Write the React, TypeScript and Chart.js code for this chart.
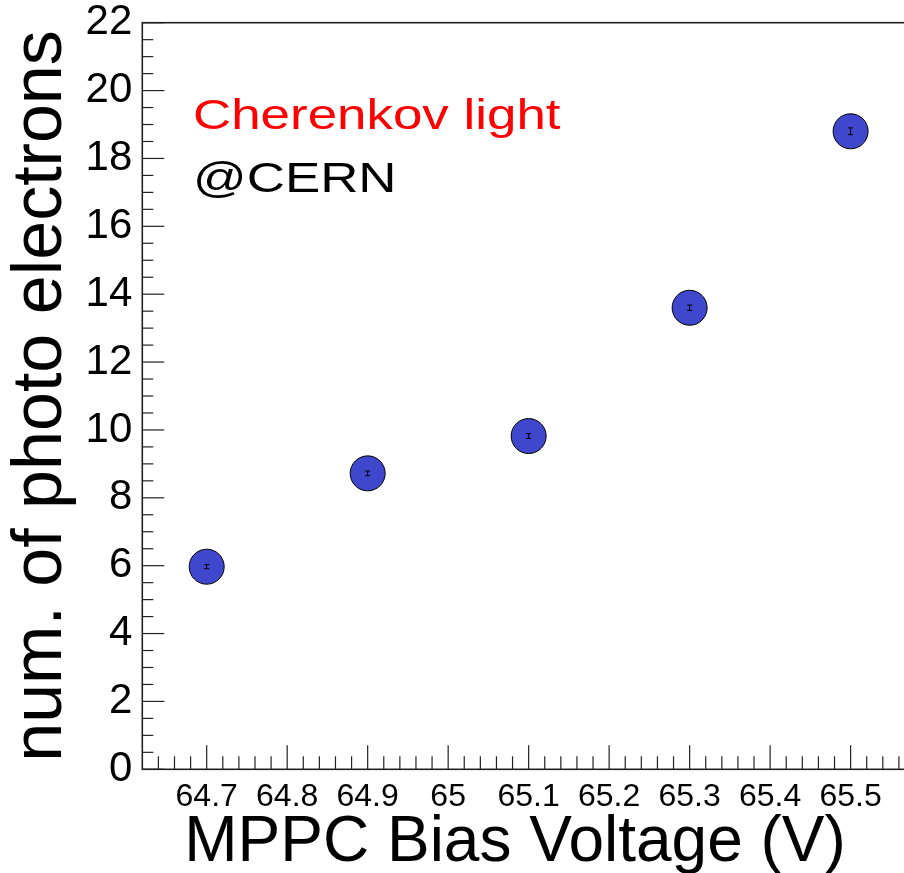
import React, { useEffect, useRef } from 'react';
import { Chart, registerables } from 'chart.js';

Chart.register(...registerables);

// ---- data ----
const biasVoltage = [64.7, 64.9, 65.1, 65.3, 65.5];
const photoElectrons = [5.97, 8.72, 9.82, 13.6, 18.8];
const peErrors = [0.06, 0.07, 0.07, 0.08, 0.1];

const xTickValues = [64.7, 64.8, 64.9, 65.0, 65.1, 65.2, 65.3, 65.4, 65.5];
const xTickLabels = ['64.7', '64.8', '64.9', '65', '65.1', '65.2', '65.3', '65.4', '65.5'];
const yTickValues = [0, 2, 4, 6, 8, 10, 12, 14, 16, 18, 20, 22];
const yTickLabels = ['0', '2', '4', '6', '8', '10', '12', '14', '16', '18', '20', '22'];

const X_MIN = 64.62;
const X_MAX = 65.58;
const Y_MIN = 0;
const Y_MAX = 22;

const FONT = '"Liberation Sans", Arial, Helvetica, sans-serif';

const rootPlugin = {
  id: 'rootStyle',
  beforeDatasetsDraw(chart: any) {
    const { ctx, chartArea } = chart;
    const xs = chart.scales.x;
    const ys = chart.scales.y;
    const { left, right, top, bottom } = chartArea;
    ctx.save();
    // frame
    ctx.strokeStyle = '#222';
    ctx.lineWidth = 1.6;
    ctx.strokeRect(left, top, right - left, bottom - top);
    // x ticks
    ctx.lineWidth = 1.2;
    ctx.strokeStyle = '#222';
    for (let i = 0; ; i++) {
      const v = Math.round((64.64 + i * 0.02) * 100) / 100;
      if (v > X_MAX) break;
      const major = Math.round(v * 100) % 10 === 0;
      const px = xs.getPixelForValue(v);
      ctx.beginPath();
      ctx.moveTo(px, bottom);
      ctx.lineTo(px, bottom - (major ? 24 : 13));
      ctx.stroke();
    }
    // y ticks
    for (let i = 0; ; i++) {
      const v = Y_MIN + i * 0.5;
      if (v > Y_MAX) break;
      const major = v % 2 === 0;
      const py = ys.getPixelForValue(v);
      ctx.beginPath();
      ctx.moveTo(left, py);
      ctx.lineTo(left + (major ? 22 : 11), py);
      ctx.stroke();
    }
    ctx.restore();
  },
  afterDatasetsDraw(chart: any) {
    const { ctx } = chart;
    const xs = chart.scales.x;
    const ys = chart.scales.y;
    ctx.save();
    ctx.strokeStyle = '#000';
    ctx.lineWidth = 1;
    biasVoltage.forEach((xv, i) => {
      const px = xs.getPixelForValue(xv);
      const y1 = ys.getPixelForValue(photoElectrons[i] - peErrors[i]);
      const y2 = ys.getPixelForValue(photoElectrons[i] + peErrors[i]);
      ctx.beginPath();
      ctx.moveTo(px, y1);
      ctx.lineTo(px, y2);
      ctx.moveTo(px - 2.5, y1);
      ctx.lineTo(px + 2.5, y1);
      ctx.moveTo(px - 2.5, y2);
      ctx.lineTo(px + 2.5, y2);
      ctx.stroke();
    });
    ctx.restore();
  },
  afterDraw(chart: any) {
    const { ctx, chartArea } = chart;
    ctx.save();
    // annotation texts (horizontally widened like the reference)
    const sx = 1.23;
    ctx.font = `43px ${FONT}`;
    ctx.textAlign = 'left';
    ctx.textBaseline = 'alphabetic';
    ctx.save();
    ctx.translate(193, 129);
    ctx.scale(sx, 1);
    ctx.fillStyle = '#ff0000';
    ctx.fillText('Cherenkov light', 0, 0);
    ctx.restore();
    ctx.save();
    ctx.translate(193, 192);
    ctx.scale(sx, 1);
    ctx.fillStyle = '#000';
    ctx.fillText('@CERN', 0, 0);
    ctx.restore();
    // x axis title
    ctx.font = `64px ${FONT}`;
    ctx.textAlign = 'center';
    ctx.fillStyle = '#000';
    const cx = (chartArea.left + chartArea.right) / 2 - 13.6;
    ctx.fillText('MPPC Bias Voltage (V)', cx, 861);
    ctx.restore();
  },
};

export default function App() {
  const ref = useRef<HTMLCanvasElement>(null);
  useEffect(() => {
    if (!ref.current) return;
    const chart = new Chart(ref.current, {
      type: 'scatter',
      data: {
        datasets: [
          {
            data: biasVoltage.map((x, i) => ({ x, y: photoElectrons[i] })),
            backgroundColor: '#3f48cc',
            borderColor: '#000',
            borderWidth: 1,
            pointRadius: 17.5,
            pointHoverRadius: 17.5,
          },
        ],
      },
      options: {
        responsive: false,
        animation: false,
        events: [],
        layout: { autoPadding: false, padding: { top: 22.7, right: 5, left: 0, bottom: 0 } },
        plugins: {
          legend: { display: false },
          tooltip: { enabled: false },
        },
        scales: {
          x: {
            type: 'linear',
            min: X_MIN,
            max: X_MAX,
            grid: { display: false, drawTicks: false },
            border: { display: false },
            afterBuildTicks: (s: any) => {
              s.ticks = xTickValues.map((v) => ({ value: v }));
            },
            afterFit: (s: any) => {
              s.height = 103.7;
              s.paddingLeft = 0;
              s.paddingRight = 0;
              s.paddingTop = 0;
              s.paddingBottom = 0;
            },
            ticks: {
              autoSkip: false,
              maxRotation: 0,
              minRotation: 0,
              padding: 9,
              color: '#000',
              font: { family: FONT, size: 32 },
              callback: (_v: any, i: number) => xTickLabels[i],
            },
          },
          y: {
            type: 'linear',
            min: Y_MIN,
            max: Y_MAX,
            grid: { display: false, drawTicks: false },
            border: { display: false },
            afterBuildTicks: (s: any) => {
              s.ticks = yTickValues.map((v) => ({ value: v }));
            },
            afterFit: (s: any) => {
              s.width = 142.3;
              s.paddingLeft = 0;
              s.paddingRight = 0;
              s.paddingTop = 0;
              s.paddingBottom = 0;
            },
            ticks: {
              autoSkip: false,
              padding: 10,
              color: '#000',
              font: { family: FONT, size: 42 },
              callback: (_v: any, i: number) => yTickLabels[i],
            },
            title: {
              display: true,
              text: 'num. of photo electrons',
              color: '#000',
              font: { family: FONT, size: 70 },
              padding: 0,
            },
          },
        },
      },
      plugins: [rootPlugin],
    });
    return () => chart.destroy();
  }, []);

  return (
    <div
      style={{
        position: 'absolute',
        left: 0,
        top: 0,
        width: 904,
        height: 873,
        overflow: 'hidden',
        background: '#fff',
      }}
    >
      <canvas
        ref={ref}
        width={920}
        height={873}
        style={{ display: 'block', width: '920px', height: '873px' }}
      />
    </div>
  );
}
